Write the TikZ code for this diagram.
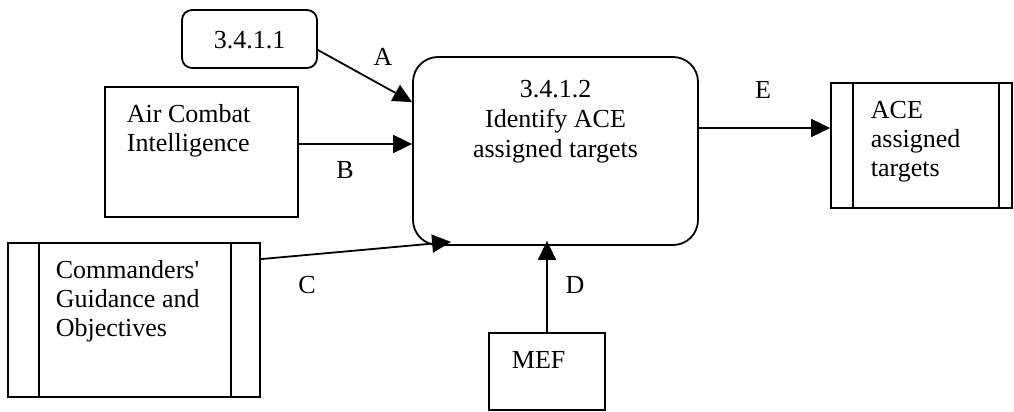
\documentclass[tikz,border=0pt]{standalone}
\usepackage{fontspec}
\setmainfont{Liberation Serif}
\usetikzlibrary{arrows.meta}
\begin{document}
\begin{tikzpicture}[x=1pt,y=-1pt,line width=1.8pt,
  txt/.style={font=\fontsize{26}{29}\selectfont,inner sep=0pt,align=left},
  ctxt/.style={font=\fontsize{26}{30}\selectfont,inner sep=0pt,align=center},
  box/.style={draw,inner sep=0pt},
  arr/.style={-{Triangle[length=19pt,width=18pt]}},
  lbl/.style={font=\fontsize{26}{29}\selectfont,inner sep=0pt}]
\useasboundingbox (0,0) rectangle (1014,412);
% boxes
\node[box,rounded corners=10pt,minimum width=135pt,minimum height=58pt] (s1) at (249.5,39) {};
\node[box,rounded corners=25pt,minimum width=285pt,minimum height=188pt] (main) at (555.5,151) {};
\node[box,minimum width=193pt,minimum height=130pt] (aci) at (201.5,152) {};
\node[box,minimum width=252pt,minimum height=154pt] (cg) at (134,320) {};
\node[box,minimum width=181pt,minimum height=125pt] (ace) at (921.5,145.5) {};
\node[box,minimum width=116pt,minimum height=77pt] (mef) at (547,371.5) {};
% inner store lines
\draw ([xshift=32pt]cg.north west) -- ([xshift=32pt]cg.south west);
\draw ([xshift=-30pt]cg.north east) -- ([xshift=-30pt]cg.south east);
\draw ([xshift=23pt]ace.north west) -- ([xshift=23pt]ace.south west);
\draw ([xshift=-14pt]ace.north east) -- ([xshift=-14pt]ace.south east);
% texts
\node[ctxt] (s1t) at (249.5,40) {3.4.1.1};
\node[ctxt] (maint) at (555.5,122) {3.4.1.2\\Identify ACE\\assigned targets};
\node[txt,anchor=west] (acit) at (126,131) {Air Combat\\Intelligence};
\node[txt,anchor=west] (cgt) at (55,301) {Commanders\textquotesingle\\Guidance and\\Objectives};
\node[txt,anchor=west] (acet) at (870,142) {ACE\\assigned\\targets};
\node[txt,anchor=west] (meft) at (511,360) {MEF};
% connectors
\draw[arr] ([yshift=-11pt]s1.east) -- ([yshift=-46pt]main.north west);
\draw[arr] ([yshift=8pt]aci.east) -- ([yshift=7pt]main.west);
\draw[arr] ([yshift=-17pt]cg.north east) -- ([shift={(39pt,4pt)}]main.south west);
\draw[arr] (mef.north) -- ([yshift=5pt]mef.north |- main.south);
\draw[arr] ([yshift=23pt]main.east) -- ([yshift=17.5pt]ace.west);
% labels
\node[lbl] (la) at (383,57) {A};
\node[lbl] (lb) at (345,170) {B};
\node[lbl] (lc) at (307,285) {C};
\node[lbl] (ld) at (575,285) {D};
\node[lbl] (le) at (763,90) {E};
\end{tikzpicture}
\end{document}
